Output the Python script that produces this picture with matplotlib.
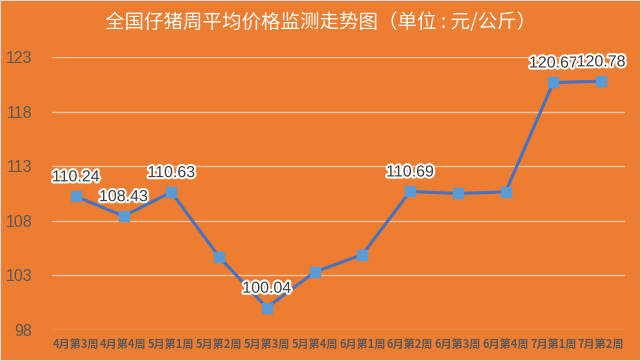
import numpy as np
import matplotlib.pyplot as plt
import matplotlib.patheffects as pe

weeks = ['4月第3周', '4月第4周', '5月第1周', '5月第2周', '5月第3周', '5月第4周',
         '6月第1周', '6月第2周', '6月第3周', '6月第4周', '7月第1周', '7月第2周']
prices = [110.24, 108.43, 110.63, 104.7, 100.04, 103.3,
          104.9, 110.69, 110.5, 110.65, 120.67, 120.78]
labelled = [0, 1, 2, 4, 7, 10, 11]
yticks = [98, 103, 108, 113, 118, 123]

bg = '#ED7D31'
plt.rcParams['font.family'] = ['Liberation Sans', 'Noto Sans CJK SC', 'DejaVu Sans']

fig = plt.figure(figsize=(6.41, 3.61), dpi=100, facecolor=bg)
fig.patches.append(plt.Rectangle((0, 0), 1, 1, transform=fig.transFigure,
                                 fill=False, edgecolor='#D9D9D9', lw=1.5))
ax = fig.add_axes([0.081, 0.086, 0.894, 0.756], facecolor=bg)

x = np.arange(len(weeks))
ax.plot(x, prices, color='#4472C4', lw=2.2, marker='s', markersize=7,
        markerfacecolor='#5B9BD5', markeredgecolor='#5B9BD5', zorder=3)

for i in labelled:
    ax.annotate('{:.2f}'.format(prices[i]), (x[i], prices[i]), xytext=(0, 14),
                textcoords='offset points', ha='center', va='center',
                fontsize=11.5, color='#404040', zorder=4,
                path_effects=[pe.withStroke(linewidth=3, foreground='white')])

ax.set_ylim(98, 123)
ax.set_xlim(-0.5, len(weeks) - 0.5)
ax.set_yticks(yticks)
ax.set_xticks(x)
ax.set_xticklabels(weeks, fontsize=8, color='#595959', fontweight='bold',
                   family=['Noto Sans CJK SC', 'DejaVu Sans'])
ax.tick_params(axis='y', labelsize=11.5, labelcolor='#595959', length=0, pad=14)
ax.tick_params(axis='x', length=0, pad=6)
ax.grid(axis='y', color='#F6C4A2', lw=1)
ax.set_axisbelow(True)
for s in ax.spines.values():
    s.set_visible(False)

fig.text(0.5, 0.938, '全国仔猪周平均价格监测走势图（单位 : 元/公斤）', ha='center', va='center',
         fontsize=14, color='white', family=['Noto Sans CJK SC', 'DejaVu Sans'])

plt.savefig('out.png', dpi=100, facecolor=bg)
